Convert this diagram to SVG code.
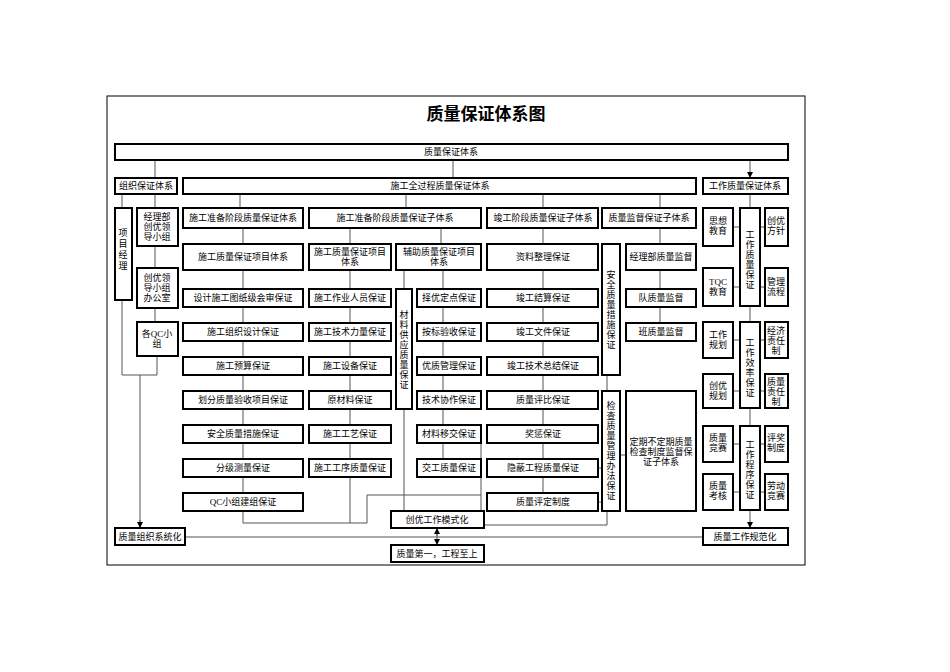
<svg xmlns="http://www.w3.org/2000/svg" width="950" height="672" viewBox="0 0 950 672">
<style>
.b{fill:#fff;stroke:#000;stroke-width:2}
text{font-family:"Liberation Serif","Noto Sans CJK SC",serif;font-size:9px;text-anchor:middle;fill:#000}
.c{fill:none;stroke:#555;stroke-width:1}
</style>
<defs><marker id="a" markerWidth="6" markerHeight="6" refX="5" refY="3" orient="auto" markerUnits="userSpaceOnUse"><path d="M0,0 L6,3 L0,6z" fill="#000"/></marker></defs>
<rect width="950" height="672" fill="#fff"/>
<rect x="107" y="96" width="698" height="469" fill="none" stroke="#000" stroke-width="1"/>
<text x="486" y="120" style="font-size:17px;font-weight:bold">质量保证体系图</text>
<g id="connectors" class="c">
<path d="M155,160V177M453,160V177M750,160V177" marker-end="url(#a)"/>
<path d="M122,194V208M155,194V208M155,246V268M155,308V322M122,300V375H157V356M140,375V527" />
<path d="M140,520V527" marker-end="url(#a)"/>
<path d="M240,194V208M406,194V208M543,194V208M660,194V208"/>
<path d="M243,228V244M243,270V511M243,511V523H367V495H481M350,228V244M350,270V523M441,228V244M404,270V289M404,409V511M443,270V459M481,435V525H607V511"/>
<path d="M543,228V493M607,375V391M598,468H602M598,502H602M620,455H626M660,228V244M660,270V323"/>
<path d="M185,537H703"/>
<path d="M437,528V544" marker-end="url(#a)"/><path d="M437,536V529" marker-end="url(#a)"/>
<path d="M750,194V208M750,306V322M750,408V426M733,227H740M760,227H765M733,287H740M760,287H765M733,340H740M760,340H765M733,391H740M760,391H765M733,444H740M760,444H765M733,492H740M760,492H765"/>
<path d="M750,510V527" marker-end="url(#a)"/>
</g>
<g id="top"><rect class="b" x="115" y="144" width="673" height="16"/><text x="451" y="155">质量保证体系</text></g>
<g id="org"><rect class="b" x="115" y="178" width="62" height="16"/><text x="146" y="189">组织保证体系</text></g>
<g id="proc"><rect class="b" x="183" y="178" width="513" height="16"/><text x="440" y="189">施工全过程质量保证体系</text></g>
<g id="work"><rect class="b" x="703" y="178" width="85" height="16"/><text x="745" y="189">工作质量保证体系</text></g>
<g id="pm"><rect class="b" x="115" y="208" width="17" height="92"/><text x="123"><tspan x="123" y="236">项</tspan><tspan x="123" dy="11">目</tspan><tspan x="123" dy="11">经</tspan><tspan x="123" dy="11">理</tspan></text></g>
<g id="lead"><rect class="b" x="137" y="208" width="41" height="38"/><text><tspan x="157" y="220">经理部</tspan><tspan x="157" dy="10">创优领</tspan><tspan x="157" dy="10">导小组</tspan></text></g>
<g id="office"><rect class="b" x="137" y="268" width="41" height="40"/><text><tspan x="157" y="281">创优领</tspan><tspan x="157" dy="10">导小组</tspan><tspan x="157" dy="10">办公室</tspan></text></g>
<g id="qc"><rect class="b" x="137" y="322" width="41" height="34"/><text><tspan x="157" y="337">各QC小</tspan><tspan x="157" dy="10">组</tspan></text></g>
<g id="orgsys"><rect class="b" x="115" y="528" width="70" height="17"/><text x="150" y="540">质量组织系统化</text></g>
<g id="A0"><rect class="b" x="183" y="208" width="120" height="20"/><text x="243" y="221">施工准备阶段质量保证体系</text></g>
<g id="A1"><rect class="b" x="183" y="244" width="120" height="26"/><text x="243" y="260">施工质量保证项目体系</text></g>
<g id="A2"><rect class="b" x="183" y="289" width="120" height="18"/><text x="243" y="301">设计施工图纸级会审保证</text></g>
<g id="A3"><rect class="b" x="183" y="323" width="120" height="18"/><text x="243" y="335">施工组织设计保证</text></g>
<g id="A4"><rect class="b" x="183" y="357" width="120" height="18"/><text x="243" y="369">施工预算保证</text></g>
<g id="A5"><rect class="b" x="183" y="391" width="120" height="18"/><text x="243" y="403">划分质量验收项目保证</text></g>
<g id="A6"><rect class="b" x="183" y="425" width="120" height="18"/><text x="243" y="437">安全质量措施保证</text></g>
<g id="A7"><rect class="b" x="183" y="459" width="120" height="18"/><text x="243" y="471">分级测量保证</text></g>
<g id="A8"><rect class="b" x="183" y="493" width="120" height="18"/><text x="243" y="505">QC小组建组保证</text></g>
<g id="B0"><rect class="b" x="309" y="208" width="172" height="20"/><text x="395" y="221">施工准备阶段质量保证子体系</text></g>
<g id="B1"><rect class="b" x="309" y="244" width="82" height="26"/><text><tspan x="350" y="255">施工质量保证项目</tspan><tspan x="350" dy="10">体系</tspan></text></g>
<g id="B2"><rect class="b" x="309" y="289" width="82" height="18"/><text x="350" y="301">施工作业人员保证</text></g>
<g id="B3"><rect class="b" x="309" y="323" width="82" height="18"/><text x="350" y="335">施工技术力量保证</text></g>
<g id="B4"><rect class="b" x="309" y="357" width="82" height="18"/><text x="350" y="369">施工设备保证</text></g>
<g id="B5"><rect class="b" x="309" y="391" width="82" height="18"/><text x="350" y="403">原材料保证</text></g>
<g id="B6"><rect class="b" x="309" y="425" width="82" height="18"/><text x="350" y="437">施工工艺保证</text></g>
<g id="B7"><rect class="b" x="309" y="459" width="82" height="18"/><text x="350" y="471">施工工序质量保证</text></g>
<g id="C1"><rect class="b" x="396" y="244" width="85" height="26"/><text><tspan x="439" y="255">辅助质量保证项目</tspan><tspan x="439" dy="10">体系</tspan></text></g>
<g id="mat"><rect class="b" x="396" y="289" width="16" height="120"/><text><tspan x="404" y="318">材</tspan><tspan x="404" dy="10">料</tspan><tspan x="404" dy="10">供</tspan><tspan x="404" dy="10">应</tspan><tspan x="404" dy="10">质</tspan><tspan x="404" dy="10">量</tspan><tspan x="404" dy="10">保</tspan><tspan x="404" dy="10">证</tspan></text></g>
<g id="C2"><rect class="b" x="417" y="289" width="64" height="18"/><text x="449" y="301">择优定点保证</text></g>
<g id="C3"><rect class="b" x="417" y="323" width="64" height="18"/><text x="449" y="335">按标验收保证</text></g>
<g id="C4"><rect class="b" x="417" y="357" width="64" height="18"/><text x="449" y="369">优质管理保证</text></g>
<g id="C5"><rect class="b" x="417" y="391" width="64" height="18"/><text x="449" y="403">技术协作保证</text></g>
<g id="C6"><rect class="b" x="417" y="425" width="64" height="18"/><text x="449" y="437">材料移交保证</text></g>
<g id="C7"><rect class="b" x="417" y="459" width="64" height="18"/><text x="449" y="471">交工质量保证</text></g>
<g id="D0"><rect class="b" x="487" y="208" width="111" height="20"/><text x="543" y="221">竣工阶段质量保证子体系</text></g>
<g id="D1"><rect class="b" x="487" y="244" width="111" height="26"/><text x="543" y="260">资料整理保证</text></g>
<g id="D2"><rect class="b" x="487" y="289" width="111" height="18"/><text x="543" y="301">竣工结算保证</text></g>
<g id="D3"><rect class="b" x="487" y="323" width="111" height="18"/><text x="543" y="335">竣工文件保证</text></g>
<g id="D4"><rect class="b" x="487" y="357" width="111" height="18"/><text x="543" y="369">竣工技术总结保证</text></g>
<g id="D5"><rect class="b" x="487" y="391" width="111" height="18"/><text x="543" y="403">质量评比保证</text></g>
<g id="D6"><rect class="b" x="487" y="425" width="111" height="18"/><text x="543" y="437">奖惩保证</text></g>
<g id="D7"><rect class="b" x="487" y="459" width="111" height="18"/><text x="543" y="471">隐蔽工程质量保证</text></g>
<g id="D8"><rect class="b" x="487" y="493" width="111" height="18"/><text x="543" y="505">质量评定制度</text></g>
<g id="safe"><rect class="b" x="602" y="244" width="18" height="131"/><text><tspan x="611" y="278">安</tspan><tspan x="611" dy="10">全</tspan><tspan x="611" dy="10">质</tspan><tspan x="611" dy="10">量</tspan><tspan x="611" dy="10">措</tspan><tspan x="611" dy="10">施</tspan><tspan x="611" dy="10">保</tspan><tspan x="611" dy="10">证</tspan></text></g>
<g id="check"><rect class="b" x="602" y="391" width="18" height="120"/><text><tspan x="611" y="409">检</tspan><tspan x="611" dy="10">查</tspan><tspan x="611" dy="10">质</tspan><tspan x="611" dy="10">量</tspan><tspan x="611" dy="10">管</tspan><tspan x="611" dy="10">理</tspan><tspan x="611" dy="10">办</tspan><tspan x="611" dy="10">法</tspan><tspan x="611" dy="10">保</tspan><tspan x="611" dy="10">证</tspan></text></g>
<g id="E0"><rect class="b" x="602" y="208" width="94" height="20"/><text x="649" y="221">质量监督保证子体系</text></g>
<g id="E1"><rect class="b" x="626" y="244" width="70" height="26"/><text x="661" y="260">经理部质量监督</text></g>
<g id="E2"><rect class="b" x="626" y="289" width="70" height="18"/><text x="661" y="301">队质量监督</text></g>
<g id="E3"><rect class="b" x="626" y="323" width="70" height="18"/><text x="661" y="335">班质量监督</text></g>
<g id="E4"><rect class="b" x="626" y="391" width="70" height="120"/><text><tspan x="661" y="445">定期不定期质量</tspan><tspan x="661" dy="10">检查制度监督保</tspan><tspan x="661" dy="10">证子体系</tspan></text></g>
<g id="mode"><rect class="b" x="391" y="511" width="93" height="17"/><text x="437" y="523">创优工作模式化</text></g>
<g id="first"><rect class="b" x="391" y="545" width="93" height="17"/><text x="437" y="557">质量第一，工程至上</text></g>
<g id="R1"><rect class="b" x="703" y="208" width="30" height="38"/><text><tspan x="718" y="224">思想</tspan><tspan x="718" dy="10">教育</tspan></text></g>
<g id="R2"><rect class="b" x="740" y="208" width="20" height="98"/><text><tspan x="750" y="238">工</tspan><tspan x="750" dy="10">作</tspan><tspan x="750" dy="10">质</tspan><tspan x="750" dy="10">量</tspan><tspan x="750" dy="10">保</tspan><tspan x="750" dy="10">证</tspan></text></g>
<g id="R3"><rect class="b" x="765" y="208" width="23" height="38"/><text><tspan x="776" y="224">创优</tspan><tspan x="776" dy="10">方针</tspan></text></g>
<g id="R4"><rect class="b" x="703" y="268" width="30" height="38"/><text><tspan x="718" y="285">TQC</tspan><tspan x="718" dy="10">教育</tspan></text></g>
<g id="R5"><rect class="b" x="765" y="268" width="23" height="38"/><text><tspan x="776" y="285">管理</tspan><tspan x="776" dy="10">流程</tspan></text></g>
<g id="R6"><rect class="b" x="703" y="322" width="30" height="36"/><text><tspan x="718" y="338">工作</tspan><tspan x="718" dy="10">规划</tspan></text></g>
<g id="R7"><rect class="b" x="740" y="322" width="20" height="86"/><text><tspan x="750" y="346">工</tspan><tspan x="750" dy="10">作</tspan><tspan x="750" dy="10">效</tspan><tspan x="750" dy="10">率</tspan><tspan x="750" dy="10">保</tspan><tspan x="750" dy="10">证</tspan></text></g>
<g id="R8"><rect class="b" x="765" y="322" width="23" height="36"/><text><tspan x="776" y="334">经济</tspan><tspan x="776" dy="10">责任</tspan><tspan x="776" dy="10">制</tspan></text></g>
<g id="R9"><rect class="b" x="703" y="374" width="30" height="34"/><text><tspan x="718" y="389">创优</tspan><tspan x="718" dy="10">规划</tspan></text></g>
<g id="R10"><rect class="b" x="765" y="374" width="23" height="34"/><text><tspan x="776" y="385">质量</tspan><tspan x="776" dy="10">责任</tspan><tspan x="776" dy="10">制</tspan></text></g>
<g id="R11"><rect class="b" x="703" y="426" width="30" height="36"/><text><tspan x="718" y="441">质量</tspan><tspan x="718" dy="10">竞赛</tspan></text></g>
<g id="R12"><rect class="b" x="740" y="426" width="20" height="84"/><text><tspan x="750" y="448">工</tspan><tspan x="750" dy="10">作</tspan><tspan x="750" dy="10">程</tspan><tspan x="750" dy="10">序</tspan><tspan x="750" dy="10">保</tspan><tspan x="750" dy="10">证</tspan></text></g>
<g id="R13"><rect class="b" x="765" y="426" width="23" height="36"/><text><tspan x="776" y="441">评奖</tspan><tspan x="776" dy="10">制度</tspan></text></g>
<g id="R14"><rect class="b" x="703" y="474" width="30" height="36"/><text><tspan x="718" y="489">质量</tspan><tspan x="718" dy="10">考核</tspan></text></g>
<g id="R15"><rect class="b" x="765" y="474" width="23" height="36"/><text><tspan x="776" y="489">劳动</tspan><tspan x="776" dy="10">竞赛</tspan></text></g>
<g id="norm"><rect class="b" x="703" y="528" width="85" height="17"/><text x="745" y="540">质量工作规范化</text></g>
</svg>
